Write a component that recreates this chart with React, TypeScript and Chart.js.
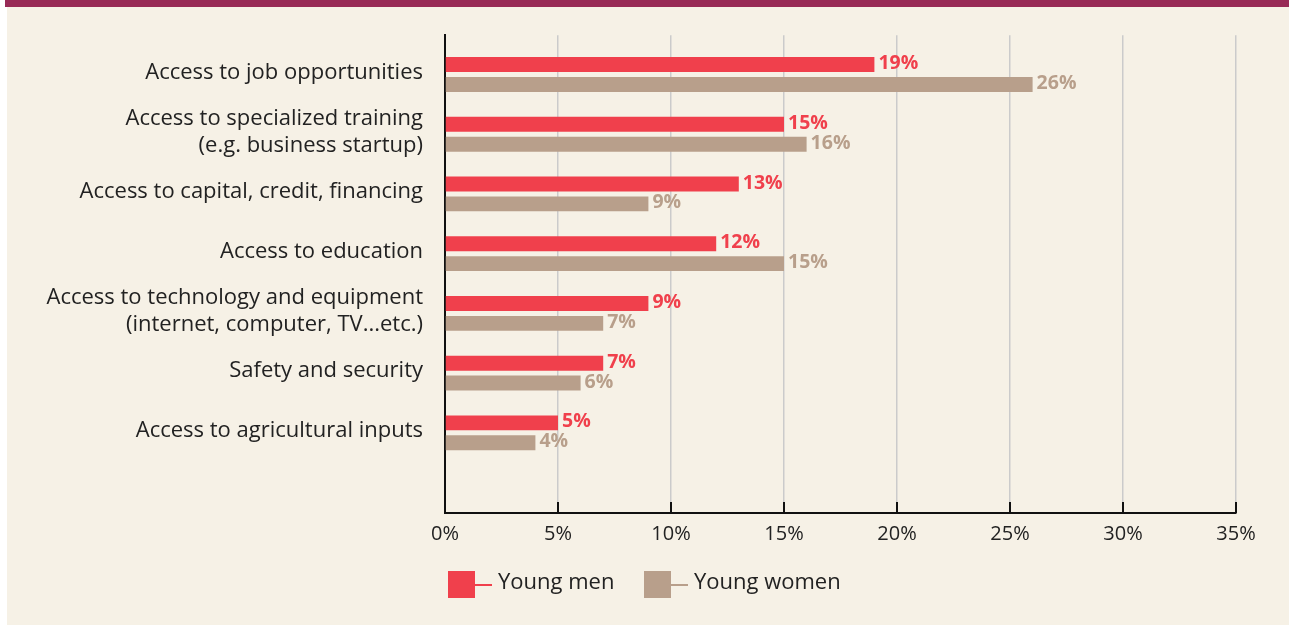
import React, { useEffect, useRef } from "react";
import { Chart, registerables } from "chart.js";

Chart.register(...registerables);

const categories: string[][] = [
  ["Access to job opportunities"],
  ["Access to specialized training", "(e.g. business startup)"],
  ["Access to capital, credit, financing"],
  ["Access to education"],
  ["Access to technology and equipment", "(internet, computer, TV...etc.)"],
  ["Safety and security"],
  ["Access to agricultural inputs"],
];
const youngMen = [19, 15, 13, 12, 9, 7, 5];
const youngWomen = [26, 16, 9, 15, 7, 6, 4];
const seriesNames = ["Young men", "Young women"];
const xTicks = [0, 5, 10, 15, 20, 25, 30, 35];

const RED = "#f0404c";
const TAN = "#b89f8b";
const MAROON = "#982a56";
const CREAM = "#f6f1e6";
const FONT = "'Open Sans', sans-serif";

const valueLabels = {
  id: "valueLabels",
  afterDatasetsDraw(chart: any) {
    const ctx = chart.ctx;
    ctx.save();
    ctx.font = `bold 19.5px ${FONT}`;
    ctx.textAlign = "left";
    ctx.textBaseline = "middle";
    chart.data.datasets.forEach((ds: any, i: number) => {
      const meta = chart.getDatasetMeta(i);
      ctx.fillStyle = ds.backgroundColor;
      meta.data.forEach((bar: any, j: number) => {
        const v = ds.data[j].x;
        ctx.fillText(`${v}%`, bar.x + 4, bar.y - 1);
      });
    });
    ctx.restore();
  },
};

const innerTicks = {
  id: "innerTicks",
  afterDraw(chart: any) {
    const ctx = chart.ctx;
    const xs = chart.scales.x;
    const bottom = chart.chartArea.bottom;
    ctx.save();
    ctx.strokeStyle = "#111";
    ctx.lineWidth = 2;
    xs.ticks.forEach((t: any) => {
      const px = xs.getPixelForValue(t.value);
      ctx.beginPath();
      ctx.moveTo(px, bottom - 11);
      ctx.lineTo(px, bottom);
      ctx.stroke();
    });
    ctx.restore();
  },
};

function ChartCanvas() {
  const ref = useRef<HTMLCanvasElement | null>(null);
  useEffect(() => {
    if (!ref.current) return;
    const chart = new Chart(ref.current, {
      type: "bar",
      data: {
        datasets: [
          {
            label: seriesNames[0],
            data: youngMen.map((v, i) => ({ x: v, y: i })),
            backgroundColor: RED,
            categoryPercentage: 40 / 60,
            barPercentage: 0.75,
          },
          {
            label: seriesNames[1],
            data: youngWomen.map((v, i) => ({ x: v, y: i })),
            backgroundColor: TAN,
            categoryPercentage: 40 / 60,
            barPercentage: 0.75,
          },
        ] as any,
      },
      options: {
        indexAxis: "y",
        responsive: false,
        animation: false,
        devicePixelRatio: 1,
        layout: { padding: { top: 33, right: 53, bottom: 0, left: 0 } },
        plugins: { legend: { display: false }, tooltip: { enabled: false } },
        scales: {
          x: {
            type: "linear",
            min: 0,
            max: 35,
            afterBuildTicks: (s: any) => {
              s.ticks = xTicks.map((v) => ({ value: v }));
            },
            afterFit: (s: any) => {
              s.height = 112;
            },
            grid: { color: "#cbcbcb", lineWidth: 1.5, drawTicks: false, tickLength: 0 },
            border: { color: "#111", width: 2 },
            ticks: {
              callback: (v: any) => `${v}%`,
              color: "#222",
              font: { family: FONT, size: 20 },
              padding: 9,
              maxRotation: 0,
            },
          },
          y: {
            type: "linear",
            reverse: true,
            offset: false,
            min: -0.658,
            max: 7.342,
            afterBuildTicks: (s: any) => {
              s.ticks = categories.map((_, i) => ({ value: i }));
            },
            afterFit: (s: any) => {
              s.width = 445;
            },
            grid: { display: false, drawTicks: false, offset: false },
            border: { color: "#111", width: 2 },
            ticks: {
              callback: (v: any) => {
                const c = categories[v];
                return c ? (c.length === 1 ? c[0] : c) : "";
              },
              color: "#222",
              font: { family: FONT, size: 22, lineHeight: 1.2 },
              padding: 22,
              labelOffset: -2,
            },
          },
        },
      } as any,
      plugins: [valueLabels, innerTicks],
    });
    return () => chart.destroy();
  }, []);
  return (
    <canvas
      ref={ref}
      width={1289}
      height={625}
      style={{ position: "absolute", left: 0, top: 0, width: 1289, height: 625 }}
    />
  );
}

function LegendItem({ color, label, left }: { color: string; label: string; left: number }) {
  return (
    <div style={{ position: "absolute", left, top: 571, height: 27, display: "flex", alignItems: "center" }}>
      <div style={{ width: 27, height: 27, background: color }} />
      <div style={{ width: 17, height: 2, background: color }} />
      <div style={{ marginLeft: 6, position: "relative", top: -4, fontFamily: FONT, fontSize: 22, color: "#222", lineHeight: "27px" }}>{label}</div>
    </div>
  );
}

export default function App() {
  return (
    <div style={{ position: "absolute", left: 0, top: 0, width: 1289, height: 625, background: "#fff", overflow: "hidden" }}>
      <div style={{ position: "absolute", left: 5, top: 0, width: 1284, height: 7, background: MAROON }} />
      <div style={{ position: "absolute", left: 7, top: 7, width: 1282, height: 618, background: CREAM }} />
      <ChartCanvas />
      <LegendItem color={RED} label={seriesNames[0]} left={448} />
      <LegendItem color={TAN} label={seriesNames[1]} left={644} />
    </div>
  );
}
